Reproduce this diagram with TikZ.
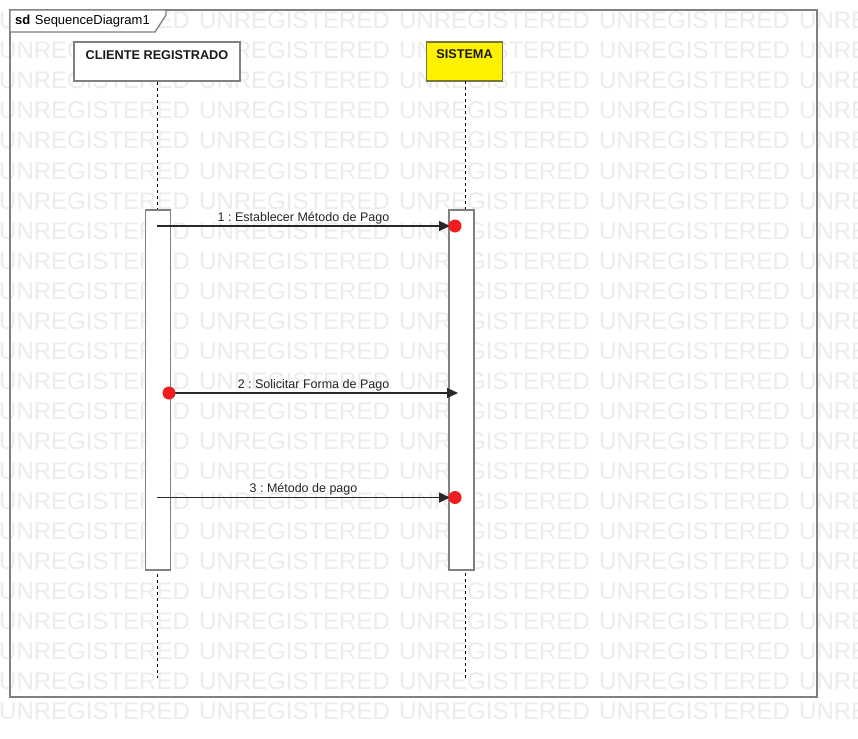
\documentclass[tikz,border=0pt]{standalone}
\usepackage{fontspec}
\setmainfont{Liberation Sans}
\usetikzlibrary{arrows.meta}
\frenchspacing
\definecolor{wmgray}{RGB}{236,236,236}
\definecolor{boxgray}{RGB}{128,128,128}
\definecolor{olive}{RGB}{120,120,60}
\definecolor{dotred}{RGB}{240,30,30}
\definecolor{msggray}{RGB}{40,40,40}
\begin{document}
\begin{tikzpicture}[x=1pt,y=-1pt,
  wm/.style={text=wmgray, font=\fontsize{24}{24}\selectfont, anchor=base west, inner sep=0pt},
  frameline/.style={draw=boxgray, line width=1.8pt},
  headbox/.style={draw=boxgray, line width=1.6pt, fill=white, inner sep=0pt},
  headtxt/.style={font=\bfseries\fontsize{12.7}{12.7}\selectfont, anchor=base, inner sep=0pt, text=black!90},
  sdtxt/.style={font=\fontsize{13}{13}\selectfont, anchor=base west, inner sep=0pt},
  lifeline/.style={draw=black, line width=0.9pt, dash pattern=on 3pt off 3pt},
  actbox/.style={draw=boxgray, line width=1.6pt, fill=white, minimum width=25pt, minimum height=360pt, inner sep=0pt},
  msg/.style={draw=msggray, line width=1.1pt, -{Triangle[length=11pt,width=10pt]}},
  lbl/.style={font=\frenchspacing\fontsize{12.5}{12.5}\selectfont, anchor=base, inner sep=0pt, text=black!85},
  reddot/.style={circle, fill=dotred, minimum size=13pt, inner sep=0pt}
]
\useasboundingbox (0,0) rectangle (858,738);
\clip (0,0) rectangle (858,738);
\fill[white] (0,0) rectangle (858,738);
% watermark
\foreach \k in {0,...,23}{
  \foreach \c in {0,...,4}{
    \node[wm] (wm-\k-\c) at ({200*\c-1},{29+30*\k}) {UNREGISTERED};
  }
}
% frame
\draw[frameline] (10,10) rectangle (817,697);
\draw[draw=boxgray, line width=1.3pt, fill=white] (10,10) -- (166,10) -- (166,15) -- (155,32) -- (10,32) -- cycle;
\node[sdtxt] (sdlbl) at (15,25) {\textbf{sd}\hspace{4.5pt}SequenceDiagram1};
% lifeline heads
\node[headbox, minimum width=166pt, minimum height=39pt] (cli) at (157,61.5) {};
\node[headtxt] (clitxt) at (157,60) {CLIENTE REGISTRADO};
\node[headbox, draw=olive, fill=yellow, minimum width=76pt, minimum height=39pt] (sis) at (464.5,61.5) {};
\node[headtxt] (sistxt) at (464.5,59) {SISTEMA};
% lifelines
\coordinate (cliend) at (157,678);
\coordinate (sistop) at (465,81);
\coordinate (sisend) at (465,678);
\draw[lifeline] (cli.south) -- (cliend);
\draw[lifeline] (sistop) -- (sisend);
% activations
\node[actbox] (act1) at (158,390) {};
\node[actbox] (act2) at (461.5,390) {};
% messages
\coordinate (m1s) at (157,226);
\coordinate (m1e) at (450,226);
\coordinate (m2s) at (169,393);
\coordinate (m2e) at (458,393);
\coordinate (m3s) at (157,497.5);
\coordinate (m3e) at (450,497.5);
\draw[msg] (m1s) -- (m1e) node[lbl, midway, yshift=5pt] (l1) {1 : Establecer Método de Pago};
\draw[msg] (m2s) -- (m2e) node[lbl, midway, yshift=5pt] (l2) {2 : Solicitar Forma de Pago};
\draw[msg] (m3s) -- (m3e) node[lbl, midway, yshift=5.5pt] (l3) {3 : Método de pago};
% red dots
\node[reddot] (d1) at (455,226) {};
\node[reddot] (d2) at (169,393) {};
\node[reddot] (d3) at (455,497.5) {};
\end{tikzpicture}
\end{document}
